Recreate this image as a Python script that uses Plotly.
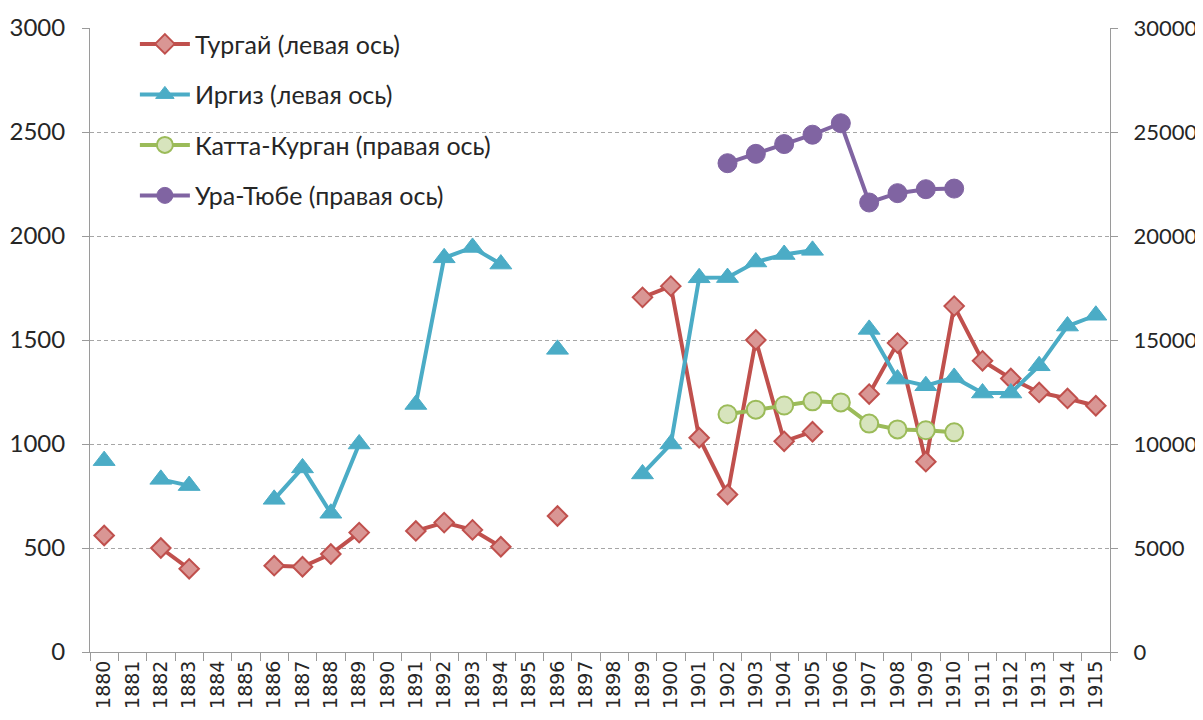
import plotly.graph_objects as go

years = [str(y) for y in range(1880, 1916)]

# Тургай (левая ось)
turgai = [560, None, 500, 400, None, None, 415, 410, 471, 574, None, 582, 622, 587, 506, None, 654, None, None,
          1705, 1759, 1030, 757, 1500, 1013, 1059, None, 1240, 1485, 915, 1663, 1400, 1315, 1248, 1219, 1184]
# Иргиз (левая ось)
irgiz = [920, None, 830, 800, None, None, 734, 885, 667, 1000, None, 1190, 1895, 1945, 1865, None, 1455, None, None,
         856, 1000, 1799, 1800, 1875, 1911, 1931, None, 1551, 1312, 1280, 1320, 1245, 1245, 1376, 1567, 1619]
# Катта-Курган (правая ось)
katta = [None] * 22 + [11430, 11650, 11850, 12050, 12000, 10980, 10700, 10660, 10560] + [None] * 5
# Ура-Тюбе (правая ось)
ura = [None] * 22 + [23500, 23950, 24420, 24870, 25420, 21610, 22060, 22250, 22280] + [None] * 5

left_ticks = [0, 500, 1000, 1500, 2000, 2500, 3000]
right_ticks = [0, 5000, 10000, 15000, 20000, 25000, 30000]

fig = go.Figure()
fig.add_trace(go.Scatter(
    x=years, y=turgai, name="Тургай (левая ось)", mode="lines+markers", legendgroup="a",
    line=dict(color="#C0504D", width=4),
    marker=dict(symbol="diamond", size=15, color="#D99694", line=dict(color="#C0504D", width=2)),
))
fig.add_trace(go.Scatter(
    x=years, y=irgiz, name="Иргиз (левая ось)", mode="lines+markers", legendgroup="b",
    line=dict(color="#4BACC6", width=4),
    marker=dict(symbol="triangle-up", size=19, color="#4BACC6", line=dict(color="#4BACC6", width=1)),
))
fig.add_trace(go.Scatter(
    x=years, y=katta, name="Катта-Курган (правая ось)", mode="lines+markers", legendgroup="c", yaxis="y2",
    line=dict(color="#9BBB59", width=4),
    marker=dict(symbol="circle", size=18, color="#D7E4BD", line=dict(color="#9BBB59", width=2)),
))
fig.add_trace(go.Scatter(
    x=years, y=ura, name="Ура-Тюбе (правая ось)", mode="lines+markers", legendgroup="d", yaxis="y2",
    line=dict(color="#8064A2", width=4),
    marker=dict(symbol="circle", size=19, color="#8064A2", line=dict(color="#8064A2", width=1)),
))

axis_color = "#9A9A9A"
fig.update_layout(
    width=1195, height=712,
    margin=dict(l=82, r=93, t=20, b=68, autoexpand=False),
    paper_bgcolor="white", plot_bgcolor="white",
    font=dict(family="Lato", size=24, color="#262626"),
    showlegend=True,
    legend=dict(x=0.044, y=1.011, xanchor="left", yanchor="top", bgcolor="rgba(0,0,0,0)",
                tracegroupgap=15, font=dict(size=25, color="#262626"), itemwidth=50),
    xaxis=dict(
        type="category", categoryorder="array", categoryarray=years, automargin=False,
        tickangle=-90, tickson="boundaries", ticks="outside", ticklen=8, tickcolor=axis_color,
        showline=True, linecolor=axis_color, linewidth=1, showgrid=False,
        tickfont=dict(family="DejaVu Sans", size=19, color="#262626"),
        range=[-0.5, 35.5],
    ),
    yaxis=dict(
        range=[0, 3000], tickvals=left_ticks, ticks="outside", ticklen=7, tickcolor=axis_color,
        showline=True, linecolor=axis_color, linewidth=1, automargin=False,
        showgrid=True, gridcolor="#A6A6A6", griddash="4px,3px", gridwidth=1,
        zeroline=False, ticklabelstandoff=12, tickformat="d",
    ),
    yaxis2=dict(
        range=[0, 30000], tickvals=right_ticks, overlaying="y", side="right", automargin=False,
        ticks="outside", ticklen=7, tickcolor=axis_color, tickformat="d",
        tickfont=dict(size=22, color="#262626"),
        showline=True, linecolor=axis_color, linewidth=1, showgrid=False, zeroline=False,
        ticklabelstandoff=11,
    ),
)

fig.write_html("out.html")
